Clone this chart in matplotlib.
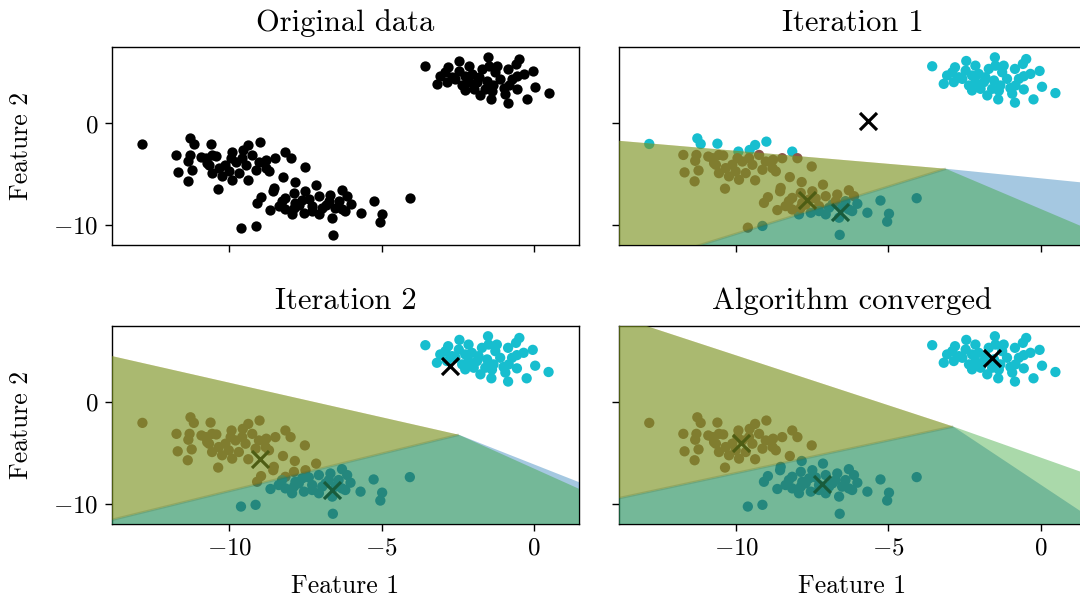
import numpy as np
import matplotlib
matplotlib.use('Agg')
import matplotlib.pyplot as plt
from matplotlib.ticker import MultipleLocator

plt.rcParams['font.family'] = 'cmr10'
plt.rcParams['mathtext.fontset'] = 'cm'
plt.rcParams['axes.formatter.use_mathtext'] = True
plt.rcParams['axes.linewidth'] = 1.0

# --- data: three blobs (upper right, left, lower middle) ---
upper_x = [-3.56, -2.81, -2.44, -2.14, -1.50, -0.47, -0.58, -0.03, -0.84, -0.55,
           0.05, 0.49, -0.23, -0.84, -1.39, -1.37, -1.75, -2.25, -2.35, -3.18,
           -2.85, -3.07, -2.90, -2.57, -2.03, -1.70, -1.26, -1.10, -0.82, -0.55,
           -1.86, -1.53, -2.25, -1.32, -0.99, -2.46, -1.81, -1.48, -2.68, -2.14,
           -0.71, -1.21, -1.97, -1.59, -0.33, -0.93]
upper_y = [5.63, 5.53, 6.15, 5.69, 6.51, 6.34, 5.86, 5.17, 5.37, 4.65,
           3.61, 2.99, 2.37, 2.05, 2.37, 3.22, 2.76, 3.25, 3.74, 3.90,
           4.07, 4.72, 5.04, 4.39, 4.88, 5.37, 5.04, 4.39, 3.74, 3.35,
           4.07, 4.23, 4.72, 3.74, 3.48, 5.20, 4.55, 5.69, 4.55, 4.07,
           4.39, 5.69, 3.41, 3.41, 4.88, 2.93]

left_x = [-12.86, -11.28, -11.17, -10.62, -11.74, -11.31, -11.35, -11.70, -11.24, -11.37,
          -10.37, -10.92, -10.57, -10.43, -9.93, -9.56, -9.38, -9.01, -9.25, -9.03,
          -8.79, -8.49, -8.16, -7.99, -7.52, -8.24, -7.85, -9.38, -9.91, -10.24,
          -10.57, -10.67, -10.13, -9.80, -9.47, -9.14, -8.81, -10.35, -10.02, -9.69,
          -10.73, -9.96, -9.58, -8.70, -10.78]
left_y = [-2.02, -1.47, -2.02, -1.99, -3.10, -3.10, -3.68, -4.82, -4.63, -5.70,
          -6.42, -3.26, -3.10, -3.16, -2.77, -2.61, -2.12, -1.79, -3.10, -3.75,
          -3.58, -3.42, -2.77, -3.42, -4.24, -5.28, -5.77, -5.60, -5.54, -5.21,
          -4.89, -4.07, -4.07, -3.75, -4.07, -4.56, -4.40, -4.40, -4.72, -4.89,
          -3.91, -3.42, -3.42, -4.72, -3.42]

lower_x = [-8.54, -8.56, -8.96, -9.09, -8.65, -8.38, -8.16, -7.88, -7.50, -7.15,
           -7.39, -7.06, -6.68, -6.30, -6.13, -6.02, -6.30, -6.62, -7.06, -7.55,
           -7.94, -8.16, -7.72, -7.28, -6.84, -6.41, -6.73, -7.61, -7.88, -5.69,
           -5.26, -4.98, -5.04, -4.07, -9.62, -9.14, -6.60, -7.28, -6.95, -6.19,
           -7.83, -8.27, -6.52]
lower_y = [-6.35, -6.68, -7.26, -7.82, -8.53, -8.14, -7.33, -6.84, -6.68, -6.03,
           -7.39, -7.16, -7.00, -6.58, -7.16, -7.91, -8.47, -9.28, -8.95, -8.79,
           -8.95, -8.47, -7.98, -8.14, -7.98, -7.65, -7.65, -7.49, -8.30, -8.79,
           -7.59, -8.89, -9.67, -7.36, -10.26, -10.09, -10.97, -8.63, -8.30, -8.63,
           -7.82, -7.65, -8.30]

# centroids per iteration, order: lower, left, upper cluster
it1_cent_x = [-6.58, -7.67, -5.67]
it1_cent_y = [-8.70, -7.50, 0.25]
it2_cent_x = [-6.62, -8.98, -2.74]
it2_cent_y = [-8.63, -5.54, 3.58]
conv_cent_x = [-7.18, -9.83, -1.60]
conv_cent_y = [-8.05, -4.00, 4.35]

# region outlines: shared vertex and one point along each edge ray
# (top-left edge, lower-left edge, blue right edge, green right edge)
it1_vertex = (-3.11, -4.46)
it1_rays = {'top': (-13.77, -1.73), 'low': (-11.17, -11.95),
            'blue': (1.33, -5.80), 'green': (1.33, -10.10)}
it2_vertex = (-2.46, -3.19)
it2_rays = {'top': (-13.85, 4.55), 'low': (-13.85, -11.56),
            'blue': (1.46, -7.82), 'green': (1.46, -8.47)}
conv_vertex = (-2.87, -2.38)
conv_rays = {'top': (-12.75, 7.32), 'low': (-13.77, -9.38),
             'blue': (1.33, -10.74), 'green': (1.33, -6.84)}

point_colors = ['tab:blue', 'tab:brown', 'tab:cyan']

X = np.array(upper_x + left_x + lower_x)
Y = np.array(upper_y + left_y + lower_y)


def wedge(vertex, pa, pb, reach=400.0):
    # polygon swept counter-clockwise from ray (vertex->pa) to ray (vertex->pb)
    a = np.arctan2(pa[1] - vertex[1], pa[0] - vertex[0])
    b = np.arctan2(pb[1] - vertex[1], pb[0] - vertex[0])
    if b < a:
        b += 2 * np.pi
    t = np.linspace(a, b, 30)
    px = np.r_[vertex[0], vertex[0] + reach * np.cos(t)]
    py = np.r_[vertex[1], vertex[1] + reach * np.sin(t)]
    return px, py


def draw_iteration(ax, cx, cy, vertex, rays):
    cx, cy = np.array(cx), np.array(cy)
    d = (X[:, None] - cx[None, :]) ** 2 + (Y[:, None] - cy[None, :]) ** 2
    labels = d.argmin(axis=1)
    cols = [point_colors[k] for k in labels]
    ax.scatter(X, Y, c=cols, s=55, zorder=2, linewidths=0)
    ax.scatter(cx, cy, marker='x', c='k', s=150, linewidths=2.3, zorder=3)
    for (a, b), col in zip([('low', 'blue'), ('top', 'low'), ('top', 'green')],
                           ['tab:blue', 'tab:orange', 'tab:green']):
        px, py = wedge(vertex, rays[a], rays[b])
        ax.fill(px, py, color=col, alpha=0.4, zorder=4, linewidth=0)
    # slight overlap seam along the boundary between the two lower regions
    sx, sy = wedge(vertex, rays['low'], rays['low'])
    ax.plot(sx[:2], sy[:2], color='#4a6a2a', alpha=0.22, lw=1.8, zorder=5,
            solid_capstyle='butt')


fig = plt.figure(figsize=(10.8, 6.05), dpi=100)
w, h = 0.4324, 0.327
ax_tl = fig.add_axes([0.1037, 0.595, w, h])
ax_tr = fig.add_axes([0.573, 0.595, w, h], sharex=ax_tl, sharey=ax_tl)
ax_bl = fig.add_axes([0.1037, 0.134, w, h], sharex=ax_tl, sharey=ax_tl)
ax_br = fig.add_axes([0.573, 0.134, w, h], sharex=ax_tl, sharey=ax_tl)

ax_tl.scatter(X, Y, c='k', s=55, linewidths=0)
draw_iteration(ax_tr, it1_cent_x, it1_cent_y, it1_vertex, it1_rays)
draw_iteration(ax_bl, it2_cent_x, it2_cent_y, it2_vertex, it2_rays)
draw_iteration(ax_br, conv_cent_x, conv_cent_y, conv_vertex, conv_rays)

titles = ['Original data', 'Iteration 1', 'Iteration 2', 'Algorithm converged']
for ax, t in zip([ax_tl, ax_tr, ax_bl, ax_br], titles):
    ax.set_title(t, fontsize=22, pad=12)
    ax.tick_params(labelsize=18, width=1.0, length=5, pad=5)

ax_tl.set_xlim(X.min() - 1, X.max() + 1)
ax_tl.set_ylim(Y.min() - 1, Y.max() + 1)
ax_tl.xaxis.set_major_locator(MultipleLocator(5))
ax_tl.yaxis.set_major_locator(MultipleLocator(10))

ax_tl.tick_params(labelbottom=False)
ax_tr.tick_params(labelbottom=False, labelleft=False)
ax_br.tick_params(labelleft=False)

for ax in [ax_bl, ax_br]:
    ax.set_xlabel('Feature 1', fontsize=18.5, labelpad=10)
for ax in [ax_tl, ax_bl]:
    ax.set_ylabel('Feature 2', fontsize=18.5, labelpad=14)

fig.savefig('out.png', dpi=100)
